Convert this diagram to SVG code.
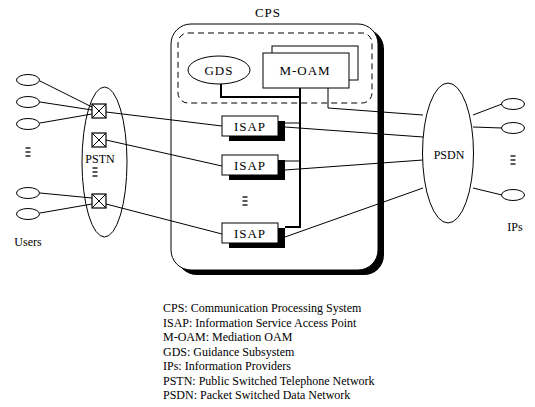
<svg xmlns="http://www.w3.org/2000/svg" width="535" height="407" viewBox="0 0 535 407" font-family="'Liberation Serif', 'Times New Roman', serif">
<style>
  text { font-family: "Liberation Serif", "Times New Roman", serif; fill: #000; }
  .lbl { font-size: 12px; text-anchor: middle; }
  .big { font-size: 13px; letter-spacing: 1px; }
  .leg { font-size: 12px; }
  .thin { fill: none; stroke: #000; stroke-width: 1; }
  .thick { fill: none; stroke: #000; stroke-width: 2; }
  .box { fill: #fff; stroke: #000; stroke-width: 1; }
  .shadow { fill: #000; }
</style>
<defs>
  <g id="sw">
    <rect x="0" y="0" width="14" height="14" fill="#fff" stroke="#000" stroke-width="1.2"/>
    <path d="M0 0 L14 14 M14 0 L0 14" stroke="#000" stroke-width="1"/>
  </g>
  <g id="vdots">
    <line x1="-2.5" y1="-4" x2="2.5" y2="-4" stroke="#000" stroke-width="1.3"/>
    <line x1="-2.5" y1="0" x2="2.5" y2="0" stroke="#000" stroke-width="1.3"/>
    <line x1="-2.5" y1="4" x2="2.5" y2="4" stroke="#000" stroke-width="1.3"/>
  </g>
</defs>
<rect width="535" height="407" fill="#fff"/>

<g id="cps">
  <rect x="177" y="29" width="207" height="246" rx="20" class="shadow"/>
  <rect x="171" y="24" width="207" height="246" rx="20" class="box"/>
  <rect x="178" y="33" width="194" height="70" rx="10" fill="none" stroke="#000" stroke-width="1" stroke-dasharray="6,4"/>
  <text x="268" y="17" class="lbl big">CPS</text>
</g>

<g id="connectors">
  <!-- users to switches -->
  <line x1="40" y1="81" x2="92" y2="107" class="thin"/>
  <line x1="40" y1="102" x2="92" y2="110" class="thin"/>
  <line x1="40" y1="123" x2="92" y2="114" class="thin"/>
  <line x1="40" y1="193" x2="92" y2="198" class="thin"/>
  <line x1="40" y1="213" x2="92" y2="204" class="thin"/>
  <!-- switches to ISAPs -->
  <line x1="106" y1="112" x2="222" y2="126" class="thin"/>
  <line x1="106" y1="140" x2="222" y2="166" class="thin"/>
  <line x1="106" y1="204" x2="222" y2="234" class="thin"/>
  <!-- GDS / M-OAM bus -->
  <polyline points="221,84 221,97 300,97" class="thick"/>
  <polyline points="300,88 300,227 285,227" class="thick"/>
  <line x1="285" y1="123" x2="300" y2="123" class="thin"/>
  <line x1="285" y1="161" x2="300" y2="161" class="thin"/>
  <!-- M-OAM to PSDN -->
  <polyline points="328,88 328,108 423,115" class="thin"/>
  <!-- ISAPs to PSDN -->
  <line x1="285" y1="127" x2="423" y2="137" class="thin"/>
  <line x1="285" y1="170" x2="423" y2="160" class="thin"/>
  <line x1="285" y1="237" x2="423" y2="188" class="thin"/>
  <!-- PSDN to IPs -->
  <line x1="473" y1="115" x2="502" y2="104" class="thin"/>
  <line x1="473" y1="127" x2="502" y2="128" class="thin"/>
  <line x1="473" y1="188" x2="502" y2="195" class="thin"/>
</g>

<g id="gds">
  <ellipse cx="219" cy="70" rx="31" ry="14" class="box"/>
  <text x="219" y="75" class="lbl big">GDS</text>
</g>

<g id="moam">
  <rect x="272" y="46" width="86" height="34" class="box"/>
  <rect x="263" y="53" width="86" height="35" class="box"/>
  <text x="305" y="75" class="lbl big">M-OAM</text>
</g>

<g id="isap1">
  <rect x="229" y="121" width="56" height="20" class="shadow"/>
  <rect x="222" y="116" width="56" height="20" class="box"/>
  <text x="250" y="131" class="lbl big">ISAP</text>
</g>
<g id="isap2">
  <rect x="229" y="160" width="56" height="20" class="shadow"/>
  <rect x="222" y="155" width="56" height="20" class="box"/>
  <text x="250" y="170" class="lbl big">ISAP</text>
</g>
<g id="isap-dots"><use href="#vdots" x="245" y="201"/></g>
<g id="isap3">
  <rect x="229" y="228" width="56" height="20" class="shadow"/>
  <rect x="222" y="223" width="56" height="20" class="box"/>
  <text x="250" y="238" class="lbl big">ISAP</text>
</g>

<g id="pstn">
  <ellipse cx="104.5" cy="162" rx="22.5" ry="75" class="thin"/>
  <text x="100" y="163" class="lbl">PSTN</text>
  <use href="#vdots" x="95" y="172"/>
</g>
<g id="sw1"><use href="#sw" x="92" y="104"/></g>
<g id="sw2"><use href="#sw" x="92" y="133"/></g>
<g id="sw3"><use href="#sw" x="92" y="194"/></g>

<g id="psdn">
  <ellipse cx="448" cy="153" rx="25.5" ry="70" class="box"/>
  <text x="449" y="159" class="lbl">PSDN</text>
</g>

<g id="users">
  <ellipse cx="28" cy="80" rx="11.5" ry="5.5" class="box"/>
  <ellipse cx="28" cy="102" rx="11.5" ry="5.5" class="box"/>
  <ellipse cx="28" cy="124" rx="11.5" ry="5.5" class="box"/>
  <use href="#vdots" x="28" y="152"/>
  <ellipse cx="28" cy="193" rx="11.5" ry="5.5" class="box"/>
  <ellipse cx="28" cy="214" rx="11.5" ry="5.5" class="box"/>
  <text x="28" y="246" class="lbl">Users</text>
</g>

<g id="ips">
  <ellipse cx="513" cy="104" rx="11.5" ry="5.5" class="box"/>
  <ellipse cx="513" cy="128" rx="11.5" ry="5.5" class="box"/>
  <use href="#vdots" x="513" y="160"/>
  <ellipse cx="513" cy="195" rx="11.5" ry="5.5" class="box"/>
  <text x="515" y="231" class="lbl">IPs</text>
</g>

<g id="legend">
  <text x="163" y="312" class="leg">CPS: Communication Processing System</text>
  <text x="163" y="327" class="leg">ISAP: Information Service Access Point</text>
  <text x="163" y="341" class="leg">M-OAM: Mediation OAM</text>
  <text x="163" y="356" class="leg">GDS: Guidance Subsystem</text>
  <text x="163" y="370" class="leg">IPs: Information Providers</text>
  <text x="163" y="385" class="leg">PSTN: Public Switched Telephone Network</text>
  <text x="163" y="399" class="leg">PSDN: Packet Switched Data Network</text>
</g>
</svg>
